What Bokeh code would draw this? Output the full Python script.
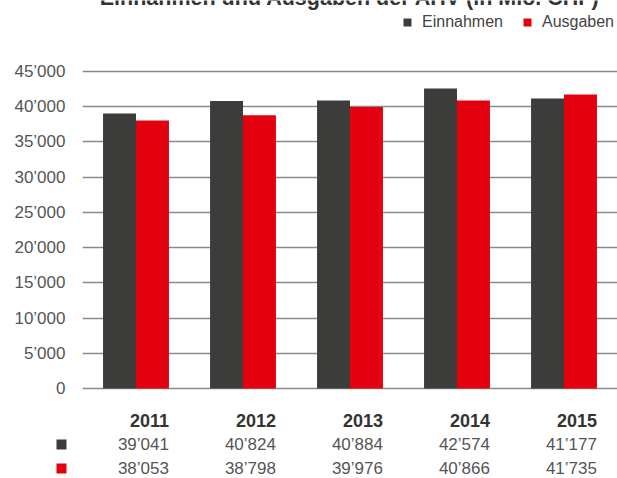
import numpy as np
from bokeh.plotting import figure
from bokeh.layouts import column
from bokeh.models import ColumnDataSource, Range1d, FixedTicker, Label, Legend, LegendItem
from bokeh.core.properties import value
from bokeh.transform import dodge
from bokeh.embed import file_html
from bokeh.resources import INLINE

title_text = "Einnahmen und Ausgaben der AHV (in Mio. CHF)"
years = ["2011", "2012", "2013", "2014", "2015"]
series_names = ["Einnahmen", "Ausgaben"]
einnahmen = [39041, 40824, 40884, 42574, 41177]
ausgaben = [38053, 38798, 39976, 40866, 41735]
tick_values = [0, 5000, 10000, 15000, 20000, 25000, 30000, 35000, 40000, 45000]
tick_labels = ["0", "5\u2019000", "10\u2019000", "15\u2019000", "20\u2019000",
               "25\u2019000", "30\u2019000", "35\u2019000", "40\u2019000", "45\u2019000"]

DARK = "#3c3c3b"
RED = "#e3000f"
TXT = "#555555"
FONT = "Liberation Sans"


def fmt(v):
    return f"{v:,}".replace(",", "\u2019")


idx = np.arange(len(years))
bw = 0.308
W = 617
LEFT = 82                 # frame left of the chart
PX_PER_CAT = (W - LEFT) / len(years)
VAL_PER_PX = 45000 / 317.0

# ---------------- chart ----------------
p = figure(width=W, height=400, x_range=Range1d(-0.5, len(years) - 0.5),
           y_range=Range1d(-4 * VAL_PER_PX, 388 * VAL_PER_PX),
           output_backend="svg", toolbar_location=None,
           min_border_left=LEFT, min_border_right=0, min_border_top=0, min_border_bottom=8)
p.outline_line_color = None
p.xaxis.visible = False
p.xgrid.visible = False
p.frame_align = False

ax = p.yaxis[0]
ax.ticker = FixedTicker(ticks=tick_values)
ax.major_label_overrides = {v: l for v, l in zip(tick_values, tick_labels)}
ax.axis_line_color = None
ax.major_tick_line_color = None
ax.minor_tick_line_color = None
ax.major_tick_in = 0
ax.major_tick_out = 0
ax.major_label_standoff = 17
ax.major_label_text_font_size = "17px"
ax.major_label_text_color = TXT
ax.major_label_text_font = FONT

p.ygrid.grid_line_color = "#8a8a8a"
p.ygrid.grid_line_width = 1.5

src = ColumnDataSource(dict(x=idx, ein=einnahmen, aus=ausgaben))
r1 = p.vbar(x=dodge("x", -bw / 2), top="ein", width=bw, source=src,
            fill_color=DARK, line_color=None)
r2 = p.vbar(x=dodge("x", bw / 2), top="aus", width=bw, source=src,
            fill_color=RED, line_color=None)

legend = Legend(items=[LegendItem(label=series_names[0], renderers=[r1]),
                       LegendItem(label=series_names[1], renderers=[r2])],
                orientation="horizontal", location=(320, 361),
                glyph_width=10, glyph_height=10, label_standoff=10, spacing=19,
                padding=0, margin=0, border_line_color=None, background_fill_alpha=0,
                label_text_font_size="16px", label_text_color="#444444",
                label_text_font=FONT, label_height=10)
p.add_layout(legend)

# title (cut at the top like the reference)
p.add_layout(Label(x=(len(years) - 1) / 2, y=391 * VAL_PER_PX, text=title_text,
                   text_align="center", text_baseline="alphabetic",
                   text_font_style="bold", text_font_size="21.5px",
                   text_color="#333333", text_font=FONT))

# ---------------- data table ----------------
t = figure(width=W, height=78, x_range=Range1d(-0.5 - LEFT / PX_PER_CAT, len(years) - 0.5),
           y_range=Range1d(2.42, -0.83), output_backend="svg", toolbar_location=None,
           min_border_left=0, min_border_right=0, min_border_top=0, min_border_bottom=0)
t.outline_line_color = None
t.axis.visible = False
t.grid.visible = False
t.frame_align = False

rows = dict(x=idx + bw, yr=years, ein=[fmt(v) for v in einnahmen],
            aus=[fmt(v) for v in ausgaben],
            r0=[0] * len(years), r1=[1] * len(years), r2=[2] * len(years))
tsrc = ColumnDataSource(rows)
t.text(x="x", y="r0", text="yr", source=tsrc, text_align="right", text_baseline="middle",
       text_font=value(FONT), text_font_style="bold", text_font_size="18px",
       text_color="#333333")
t.text(x="x", y="r1", text="ein", source=tsrc, text_align="right", text_baseline="middle",
       text_font=value(FONT), text_font_size="17px", text_color=TXT)
t.text(x="x", y="r2", text="aus", source=tsrc, text_align="right", text_baseline="middle",
       text_font=value(FONT), text_font_size="17px", text_color=TXT)
t.scatter(x=[-0.5 - 21 / PX_PER_CAT] * 2, y=[1, 2], marker="square", size=10,
          fill_color=[DARK, RED], line_color=None)

layout = column(p, t, spacing=0)
open("out.html", "w").write(file_html(layout, INLINE))
